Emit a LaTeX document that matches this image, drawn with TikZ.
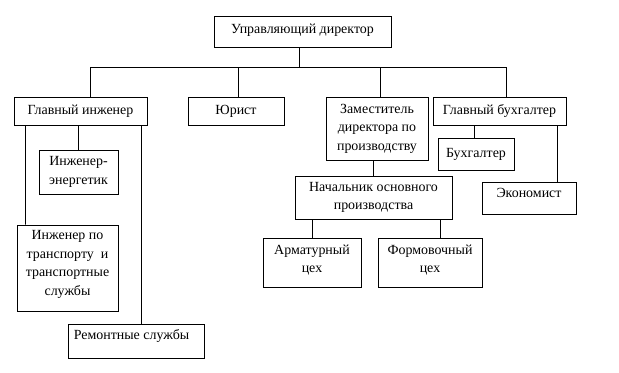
\documentclass[tikz,border=0pt]{standalone}
\usepackage{fontspec}
\setmainfont{Liberation Serif}
\begin{document}
\begin{tikzpicture}[x=1bp,y=-1bp,
  box/.style={draw=black, line width=0.9bp, inner sep=0pt, align=center,
    font=\fontsize{14}{18.5}\selectfont},
  conn/.style={draw=black, line width=0.9bp}]
\useasboundingbox[fill=white] (0,0) rectangle (619,372);
\node[box, minimum width=177bp, minimum height=31bp, text depth=6bp] (dir) at (302.5,31.5) {Управляющий директор};
\node[box, minimum width=133bp, minimum height=28bp] (gi) at (80.5,111) {Главный инженер};
\node[box, minimum width=96bp, minimum height=28bp] (jur) at (236,111) {Юрист};
\node[box, minimum width=102bp, minimum height=63bp] (zam) at (377,128.5) {Заместитель\\директора по\\производству};
\node[box, minimum width=133bp, minimum height=28bp] (gb) at (499.5,111) {Главный бухгалтер};
\node[box, minimum width=76bp, minimum height=32bp] (buh) at (476,154) {Бухгалтер};
\node[box, minimum width=94bp, minimum height=32bp, text depth=11bp] (eko) at (529,198) {Экономист};
\node[box, minimum width=157bp, minimum height=43bp] (nach) at (373.5,197.5) {Начальник основного\\производства};
\node[box, minimum width=98bp, minimum height=49bp, text depth=8bp] (arm) at (312,262.5) {Арматурный\\цех};
\node[box, minimum width=104bp, minimum height=49bp, text depth=8bp] (form) at (430,262.5) {Формовочный\\цех};
\node[box, minimum width=79bp, minimum height=44bp] (ee) at (78.5,172) {Инженер-\\энергетик};
\node[box, minimum width=101bp, minimum height=86bp, text depth=10bp] (it) at (67.5,268) {Инженер по\\транспорту\ \ и\\транспортные\\службы};
\node[box, minimum width=136bp, minimum height=34bp] (rem) at (136,341) {};
\node[anchor=west, inner sep=0pt, font=\fontsize{14}{18.5}\selectfont] (remt) at ([xshift=6bp,yshift=-12bp]rem.north west) {Ремонтные службы};
% connectors
\draw[conn] ([xshift=-3.5bp]dir.south) -- ++(0,21);
\draw[conn] ([xshift=77bp]gi.north west) -- ++(0,-29) -| ([xshift=74bp]gb.north west);
\draw[conn] ([xshift=2bp]jur.north) -- ++(0,-29);
\draw[conn] ([xshift=3bp]zam.north) -- ++(0,-29);
\draw[conn] ([xshift=12bp]gi.south west) -- ([xshift=9bp]it.north west);
\draw[conn] (ee.north |- gi.south) -- (ee.north);
\draw[conn] ([xshift=-6bp]gi.south east) -- ([xshift=-6bp]gi.south east |- rem.north);
\draw[conn] ([xshift=-2bp]buh.north |- gb.south) -- ([xshift=-2bp]buh.north);
\draw[conn] ([xshift=-9bp]gb.south east) -- ([xshift=-9bp]gb.south east |- eko.north);
\draw[conn] (nach.north |- zam.south) -- (nach.north);
\draw[conn] (arm.north |- nach.south) -- (arm.north);
\draw[conn] ([xshift=10bp]form.north |- nach.south) -- ([xshift=10bp]form.north);
\end{tikzpicture}
\end{document}
